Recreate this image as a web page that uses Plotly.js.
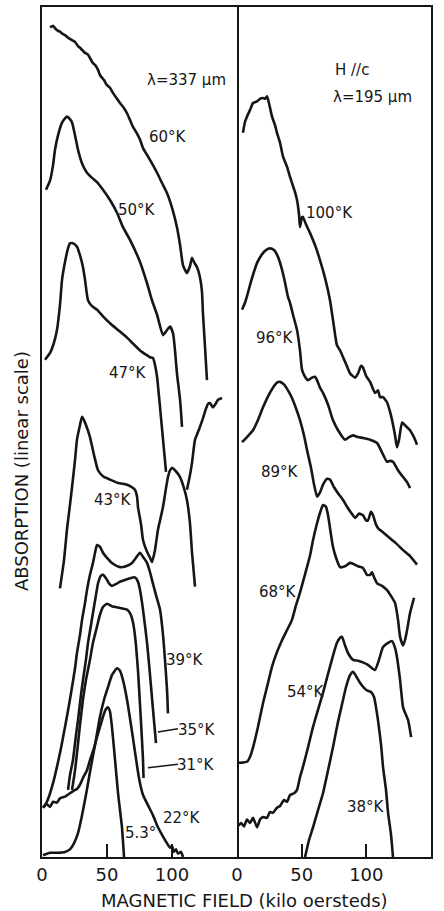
<!DOCTYPE html>
<html>
<head>
<meta charset="utf-8">
<script src="https://cdn.plot.ly/plotly-3.0.1.min.js"></script>
<style>html,body{margin:0;padding:0;background:#fff;}#chart{width:444px;height:911px;}</style>
</head>
<body>
<div id="chart"></div>
<script>
// ---- Left panel (lambda = 337 um): magnetic field (kOe) vs absorption (arbitrary, offset curves) ----
const T60_x = [6.2,8.5,10.0,12.3,13.8,16.2,17.7,20.0,23.1,25.4,27.7,29.2,33.1,35.4,36.9,39.2,40.8,43.1,44.6,47.7,50.0,52.3,54.6,57.7,60.0,63.1,65.4,67.7,70.0,73.1,75.4,77.7,80.8,84.6,88.5,92.3,96.2,100.0,103.8,106.2,108.5,111.5,113.8,115.4,116.9,119.2,121.5,123.1,123.8,125.4,126.9];
const T60_y = [97.6,97.8,97.5,97.2,97.1,96.8,96.7,96.4,96.1,95.9,95.4,95.2,94.6,94.4,94.0,93.4,93.2,92.6,92.0,91.4,90.8,90.5,89.9,89.2,88.7,88.1,87.5,86.7,85.9,85.1,84.4,83.4,82.6,81.6,80.5,79.3,78.1,76.4,74.1,72.0,69.6,68.7,69.5,70.5,70.0,69.4,68.2,66.4,64.0,60.0,56.1];

const T50_x = [3.1,6.2,8.5,10.0,12.3,15.4,17.7,19.2,21.5,23.1,25.4,27.7,30.8,34.6,38.5,42.3,46.9,52.3,57.7,62.3,67.7,75.4,80.8,84.6,88.5,93.1,96.2,98.5,100.8,102.3,103.8,106.2,107.7];
const T50_y = [78.5,79.6,81.4,83.2,84.9,86.4,86.9,87.1,86.8,86.4,84.9,83.2,81.6,80.5,79.9,79.4,78.5,77.3,75.8,74.1,72.6,70.0,67.5,65.5,63.8,61.4,62.0,62.4,61.6,59.6,56.9,53.8,50.6];

const T47_x = [2.3,6.2,9.2,11.5,13.8,15.4,17.7,20.0,21.5,23.8,26.9,29.2,31.5,33.1,35.4,38.5,42.3,46.9,52.3,58.5,65.4,70.0,75.4,80.0,83.1,85.4,86.9,88.5,90.8,93.1,95.4,null,111.5,113.8,115.4,117.7,120.0,121.5,123.8,125.4,127.7,129.2,131.5,133.1,135.4,138.5];
const T47_y = [58.5,59.3,60.5,62.0,64.9,67.9,70.0,71.6,72.2,72.2,71.8,70.8,69.4,67.9,65.5,64.8,64.4,63.6,62.8,62.0,61.1,60.4,59.6,59.1,58.8,58.7,57.9,56.5,52.9,49.1,45.3,null,43.2,44.9,46.4,49.1,50.0,50.6,51.6,52.4,53.3,53.4,52.9,53.2,53.8,54.0];

const T43_x = [13.8,16.9,19.2,21.5,23.1,25.4,26.9,29.2,30.8,32.3,34.6,36.9,40.0,43.1,46.9,52.3,58.5,65.4,69.2,71.5,73.1,73.8,76.2,77.7,80.8,83.1,84.6,86.9,89.2,90.8,93.1,95.4,96.9,98.5,100.0,102.3,106.2,109.2,111.5,113.8,115.4,117.7];
const T43_y = [31.6,34.9,38.5,41.4,43.5,46.7,49.1,50.8,51.8,51.4,50.5,49.4,47.3,45.5,44.8,44.4,44.0,43.8,43.5,43.2,42.4,41.2,39.1,37.3,35.9,35.2,34.7,36.1,38.5,39.6,41.2,43.4,44.7,45.5,45.8,45.5,44.7,43.4,42.0,39.3,35.8,31.8];

const T39_x = [0.8,3.8,6.2,9.2,11.5,14.6,17.7,20.8,23.1,25.4,26.9,29.2,30.8,33.1,34.6,36.9,39.2,40.8,42.3,44.6,46.9,50.0,54.6,60.0,64.6,69.2,72.3,75.4,77.7,80.8,83.1,84.6,87.7,90.8,93.1,94.6,96.2,96.9];
const T39_y = [5.8,6.5,7.5,9.1,10.6,12.8,15.3,17.9,20.0,22.2,24.0,26.1,27.9,29.9,31.4,33.2,34.6,35.8,36.7,36.5,35.8,35.2,34.5,34.1,34.2,34.6,35.2,35.8,35.3,34.6,33.5,32.6,30.8,29.1,26.1,23.2,19.6,16.9];

const T35_x = [20.0,21.5,23.8,26.2,27.7,30.0,31.5,33.8,35.4,37.7,39.2,41.5,43.1,45.4,46.9,49.2,51.5,53.8,56.9,60.0,63.8,67.7,71.5,73.8,75.4,77.7,80.8,83.1,85.4,87.7];
const T35_y = [7.9,9.6,11.4,14.4,16.1,19.1,20.8,23.2,25.2,27.3,28.7,30.8,32.2,33.1,33.2,32.8,32.2,31.9,32.1,32.4,32.6,32.8,32.9,32.4,31.4,29.1,25.2,21.4,17.3,13.4];

const T31_x = [23.1,25.4,26.9,29.2,31.5,33.8,36.9,39.2,42.3,44.6,46.9,50.0,53.8,60.0,65.4,67.7,69.2,70.8,72.3,73.8,75.4,76.9,77.7,78.1];
const T31_y = [7.9,10.2,12.2,15.5,18.5,20.8,23.2,25.2,27.1,28.5,29.4,29.8,29.5,29.3,29.1,28.7,28.1,26.9,24.9,22.0,17.9,13.8,11.4,9.3];

const T22_x = [0.8,6.2,11.5,17.7,21.5,24.6,27.7,30.8,33.8,36.9,40.8,44.6,47.7,50.8,53.8,57.7,60.0,62.3,65.4,68.5,71.5,74.6,77.7,81.5,85.4,89.2,93.1,96.2,98.5,100.0,101.5,103.1,104.6,106.9,108.5];
const T22_y = [0.2,0.5,0.5,0.6,0.9,1.6,2.8,4.9,7.3,10.0,13.2,16.5,18.5,20.0,21.4,22.2,21.9,20.8,18.5,15.5,12.4,9.3,7.3,6.1,4.9,3.5,2.4,1.6,1.1,1.3,0.6,0.9,0.4,0.6,0.0];

const T5_x = [0.8,3.8,6.2,8.5,11.5,13.8,17.7,21.5,24.6,26.9,29.2,31.5,34.6,36.9,40.0,42.3,44.6,46.9,49.2,50.8,52.3,53.8,56.2,58.5,61.5,63.1];
const T5_y = [5.8,6.2,5.9,6.5,6.4,6.9,7.1,7.5,7.8,8.0,8.5,9.3,10.2,11.4,12.8,14.1,15.3,16.5,17.4,17.6,17.1,15.3,11.4,7.5,3.5,0.0];

// ---- Right panel (H // c, lambda = 195 um) ----
const T100_x = [4.6,6.2,7.7,10.1,12.4,15.5,17.8,20.1,21.7,23.2,24.7,27.1,29.4,30.9,33.3,35.6,38.7,41.0,42.5,44.9,46.4,48.0,48.7,50.3,51.0,53.4,56.5,60.3,64.2,68.1,71.9,74.2,77.3,79.7,82.0,84.3,87.4,91.3,93.6,95.9,97.4,99.8,102.9,106.7,109.0,110.6,112.9,116.0,118.3,119.9,122.2,123.7,125.3,127.6,129.9,133.8,136.1,137.7,139.2];
const T100_y = [85.2,86.5,87.1,87.9,88.7,88.9,89.2,89.3,89.2,89.5,88.7,87.1,86.1,85.2,84.0,82.4,81.2,80.0,79.3,78.2,77.3,75.5,74.1,75.3,75.3,74.4,73.4,72.0,70.2,68.1,65.5,63.2,60.2,59.6,58.8,58.0,56.9,56.4,56.9,57.8,57.6,56.6,55.9,54.6,54.9,54.1,54.1,53.5,52.4,51.4,49.6,48.2,49.1,51.1,50.8,50.2,49.6,49.1,48.5];

const T96_x = [3.9,6.2,8.5,10.1,12.4,15.5,19.3,22.4,25.5,28.6,31.7,34.8,37.1,39.4,41.0,43.3,46.4,48.7,50.3,52.6,54.9,58.0,60.3,61.9,64.2,66.5,70.4,74.2,78.1,83.5,86.6,89.7,93.6,97.4,102.9,108.3,112.1,116.0,118.3,120.6,124.5,128.4,131.5,133.8];
const T96_y = [64.4,65.2,66.4,67.3,68.5,69.9,70.9,71.4,71.6,71.4,70.6,69.1,67.6,65.9,65.2,63.8,62.0,59.6,57.3,56.5,56.1,56.4,56.5,56.1,55.2,54.6,53.2,51.4,50.2,49.1,49.4,49.6,49.4,49.3,49.1,48.7,47.6,46.5,46.6,46.5,45.5,44.7,44.1,43.4];

const T89_x = [3.9,7.7,12.4,16.2,20.1,24.0,27.8,30.9,33.3,36.3,39.4,42.5,45.6,48.7,51.8,54.1,57.2,59.6,61.9,64.2,66.5,69.6,71.9,75.0,78.1,82.0,85.1,88.2,91.3,94.4,97.4,99.8,101.3,103.6,105.2,107.5,109.0,113.7,118.3,123.0,128.4,133.8,139.2];
const T89_y = [48.8,49.4,50.2,51.4,52.9,54.2,55.2,55.8,55.9,55.6,54.9,54.0,52.8,51.4,49.6,47.9,45.8,43.8,42.4,42.9,43.8,44.5,44.4,43.5,42.8,42.0,41.2,40.5,39.9,40.4,40.2,39.6,39.6,40.6,40.2,39.1,38.7,38.1,37.5,36.9,36.1,35.4,34.4];

const T68_x = [0.0,3.9,7.7,10.1,12.4,16.2,20.1,23.2,27.1,30.9,34.8,38.7,42.5,45.6,48.7,51.8,54.1,56.5,58.8,61.1,64.2,66.5,68.8,70.4,72.7,74.2,76.6,79.7,83.5,87.4,89.7,93.6,97.4,100.5,102.9,104.4,106.0,108.3,112.1,116.0,119.1,122.2,124.5,126.1,128.4,129.9,131.5,133.8,136.9];
const T68_y = [11.1,11.1,11.2,11.8,12.9,15.3,18.1,20.0,22.4,24.1,25.5,26.7,27.9,29.6,31.1,32.8,34.1,35.5,37.3,38.8,40.5,41.4,41.2,40.2,37.9,36.5,35.2,34.1,34.2,34.6,34.5,34.2,34.0,33.2,33.2,33.5,32.9,32.2,31.9,31.4,30.7,29.9,27.9,25.9,24.9,25.5,26.7,28.7,30.5];

const T54_x = [0.0,3.1,5.4,7.7,10.1,12.4,15.5,17.8,20.1,23.2,25.5,27.8,30.9,33.3,36.3,38.7,41.0,44.1,46.4,48.7,51.0,54.9,58.8,62.6,66.5,69.6,71.9,75.0,77.3,79.7,81.2,83.5,85.8,89.7,93.6,97.4,101.3,104.4,106.7,109.8,112.9,116.8,119.9,122.2,123.7,126.1,128.4,130.7,132.3,133.8,134.6];
const T54_y = [3.5,4.0,3.6,4.4,4.0,4.6,3.5,4.4,4.7,4.6,5.3,5.2,5.8,6.0,6.7,6.5,7.3,7.5,7.9,9.4,10.6,12.9,15.3,17.3,19.3,21.1,22.4,24.1,25.2,25.8,25.9,24.9,24.0,23.2,23.1,22.9,22.6,22.2,22.0,23.2,24.7,25.2,25.4,24.6,23.5,20.8,17.6,16.7,16.1,14.9,14.1];

const T38_x = [52.6,55.7,58.8,62.6,66.5,70.4,74.2,78.1,82.0,84.3,87.4,89.7,92.0,95.1,98.2,100.5,103.6,106.0,107.5,109.0,111.4,112.9,115.2,116.8,119.1,120.6];
const T38_y = [0.0,2.0,3.5,5.5,7.5,10.2,12.9,15.9,18.5,20.0,21.4,21.8,21.3,20.5,19.9,19.6,19.4,18.8,17.6,16.1,13.2,10.6,7.9,5.2,2.6,0.0];

// ---- Tick labels ----
const leftTicks = [0, 50, 100];
const leftTickText = ['0', '50', '100'];
const rightTicks = [0, 50, 100, 150];
const rightTickText = ['0', '50', '100', '150'];

// ---- Curve labels: [text, x, y, panel] ----
const labelText = ['λ=337 μm','60°K','50°K','47°K','43°K','39°K','35°K','31°K','22°K','5.3°',
                   'H //c','λ=195 μm','100°K','96°K','89°K','68°K','54°K','38°K'];
const labelX = [110.8,96.9,73.1,66.2,54.6,110.0,119.2,118.5,107.7,75.4,
                88.9,104.4,71.9,29.4,33.3,31.7,53.4,99.8];
const labelY = [91.4,84.7,76.1,56.9,42.0,23.2,14.9,10.8,4.6,2.8,
                92.6,89.4,75.8,61.1,45.3,31.2,19.4,5.9];
const labelPanel = ['x','x','x','x','x','x','x','x','x','x','x2','x2','x2','x2','x2','x2','x2','x2'];

// leader lines for 35K and 31K labels
const leaderX0 = [89.2, 81.5];
const leaderX1 = [104.6, 104.6];
const leaderY0 = [14.7, 10.5];
const leaderY1 = [15.1, 10.9];

const INK = '#161616';
const FONT = 'DejaVu Sans, Liberation Sans, sans-serif';

function curve(x, y, ax) {
  return {
    x: x, y: y, type: 'scatter', mode: 'lines',
    xaxis: ax, yaxis: ax === 'x' ? 'y' : 'y2',
    connectgaps: false,
    line: {color: INK, width: 2.6, shape: 'spline', smoothing: 0.5},
    hoverinfo: 'skip', showlegend: false
  };
}

const traces = [
  curve(T60_x, T60_y, 'x'), curve(T50_x, T50_y, 'x'), curve(T47_x, T47_y, 'x'),
  curve(T43_x, T43_y, 'x'), curve(T39_x, T39_y, 'x'), curve(T35_x, T35_y, 'x'),
  curve(T31_x, T31_y, 'x'), curve(T22_x, T22_y, 'x'), curve(T5_x, T5_y, 'x'),
  curve(T100_x, T100_y, 'x2'), curve(T96_x, T96_y, 'x2'), curve(T89_x, T89_y, 'x2'),
  curve(T68_x, T68_y, 'x2'), curve(T54_x, T54_y, 'x2'), curve(T38_x, T38_y, 'x2')
];

const annotations = labelText.map((t, i) => ({
  text: t, x: labelX[i], y: labelY[i], xref: labelPanel[i], yref: 'y',
  showarrow: false, font: {family: FONT, size: 15, color: INK}
}));
// axis titles
annotations.push({
  text: 'MAGNETIC FIELD (kilo oersteds)', xref: 'paper', yref: 'paper',
  x: 0.52, y: 0, yanchor: 'middle', yshift: -43, showarrow: false,
  font: {family: FONT, size: 18, color: INK}
});
annotations.push({
  text: 'ABSORPTION (linear scale)', xref: 'paper', yref: 'paper',
  x: 0, xanchor: 'center', xshift: -21, y: 0.454, yanchor: 'middle',
  textangle: -90, showarrow: false,
  font: {family: FONT, size: 18, color: INK}
});

const shapes = leaderX0.map((v, i) => ({
  type: 'line', xref: 'x', yref: 'y',
  x0: v, x1: leaderX1[i], y0: leaderY0[i], y1: leaderY1[i],
  line: {color: INK, width: 1.5}
}));

const common = {
  range: [0, 150], showgrid: false, zeroline: false,
  showline: true, mirror: true, linecolor: INK, linewidth: 2,
  ticks: 'inside', ticklen: 13, tickwidth: 2, tickcolor: INK,
  tickfont: {family: FONT, size: 18, color: INK}
};

const layout = {
  width: 444, height: 911,
  margin: {l: 42, r: 13, t: 7, b: 54},
  paper_bgcolor: '#fff', plot_bgcolor: '#fff',
  showlegend: false, hovermode: false,
  xaxis: Object.assign({}, common, {domain: [0, 0.5013], anchor: 'y',
    tickmode: 'array', tickvals: leftTicks, ticktext: leftTickText}),
  xaxis2: Object.assign({}, common, {domain: [0.5013, 1], anchor: 'y2',
    tickmode: 'array', tickvals: rightTicks, ticktext: rightTickText}),
  yaxis: {range: [0, 100], showgrid: false, zeroline: false, showticklabels: false,
    ticks: '', showline: true, mirror: true, linecolor: INK, linewidth: 2, anchor: 'x'},
  yaxis2: {range: [0, 100], matches: 'y', showgrid: false, zeroline: false, showticklabels: false,
    ticks: '', showline: true, mirror: false, side: 'right', linecolor: INK, linewidth: 2, anchor: 'x2'},
  annotations: annotations,
  shapes: shapes
};

Plotly.newPlot('chart', traces, layout, {staticPlot: true, displayModeBar: false});
</script>
</body>
</html>
